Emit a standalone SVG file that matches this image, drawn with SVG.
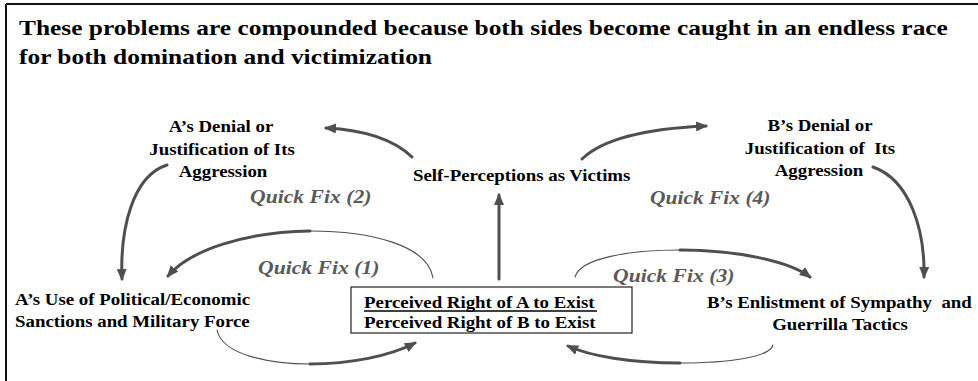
<svg xmlns="http://www.w3.org/2000/svg" width="978" height="381" viewBox="0 0 978 381">
<defs>
<marker id="ah" viewBox="0 0 12 10" refX="10" refY="5" markerWidth="12" markerHeight="10" markerUnits="userSpaceOnUse" orient="auto">
<path d="M0,0 L12,5 L0,10 z" fill="#4f4f4f"/>
</marker>
</defs>
<rect width="978" height="381" fill="#fff"/>
<g id="frame" stroke="#111" stroke-width="2">
<line x1="6" y1="4" x2="978" y2="4"/>
<line x1="6" y1="4" x2="6" y2="381"/>
</g>
<g id="title" font-weight="bold" font-size="21" fill="#000">
<text font-family="Liberation Serif" style="font-family:'Liberation Serif',serif" transform="translate(19,35) scale(1.21,1)" x="0" y="0">These problems are compounded because both sides become caught in an endless race</text>
<text font-family="Liberation Serif" style="font-family:'Liberation Serif',serif" transform="translate(19,64) scale(1.21,1)" x="0" y="0">for both domination and victimization</text>
</g>
<g id="connectors" fill="none" stroke="#4f4f4f" stroke-linecap="round">
<g stroke-width="3">
<path d="M499,279 L499,195" marker-end="url(#ah)"/>
<path d="M412,157 Q385,131 326,128" marker-end="url(#ah)"/>
<path d="M582,159 Q612,130 706,126" marker-end="url(#ah)"/>
<path d="M167,165 C132,176 120,230 122,279" marker-end="url(#ah)"/>
<path d="M873,167 C910,180 925,230 924,277" marker-end="url(#ah)"/>
<path d="M310,231 C245,232 190,250 168,276" marker-end="url(#ah)"/>
<path d="M310,364 C350,364 390,356 415,343" marker-end="url(#ah)"/>
<path d="M680,250 C740,250 790,262 810,277" marker-end="url(#ah)"/>
<path d="M680,363 C630,363 590,356 568,346" marker-end="url(#ah)"/>
</g>
<g stroke-width="1.1">
<path d="M433,278 C428,245 370,231 310,231"/>
<path d="M217,330 C222,355 270,364 310,364"/>
<path d="M575,277 C580,258 630,250 680,250"/>
<path d="M773,345 C770,357 730,363 680,363"/>
</g>
</g>
<g id="node-a-denial" font-weight="bold" font-size="17" fill="#000" text-anchor="middle">
<text font-family="Liberation Serif" style="font-family:'Liberation Serif',serif" transform="translate(221,132) scale(1.11,1)" x="0" y="0">A’s Denial or</text>
<text font-family="Liberation Serif" style="font-family:'Liberation Serif',serif" transform="translate(222,155) scale(1.11,1)" x="0" y="0">Justification of Its</text>
<text font-family="Liberation Serif" style="font-family:'Liberation Serif',serif" transform="translate(223,177) scale(1.11,1)" x="0" y="0">Aggression</text>
</g>
<g id="node-self-perceptions" font-weight="bold" font-size="17" fill="#000">
<text font-family="Liberation Serif" style="font-family:'Liberation Serif',serif" transform="translate(413,181) scale(1.11,1)" x="0" y="0">Self-Perceptions as Victims</text>
</g>
<g id="node-b-denial" font-weight="bold" font-size="17" fill="#000" text-anchor="middle">
<text font-family="Liberation Serif" style="font-family:'Liberation Serif',serif" transform="translate(820,131) scale(1.11,1)" x="0" y="0">B’s Denial or</text>
<text font-family="Liberation Serif" style="font-family:'Liberation Serif',serif" transform="translate(820,154) scale(1.11,1)" x="0" y="0" xml:space="preserve">Justification of  Its</text>
<text font-family="Liberation Serif" style="font-family:'Liberation Serif',serif" transform="translate(819,176) scale(1.11,1)" x="0" y="0">Aggression</text>
</g>
<g id="node-a-use" font-weight="bold" font-size="17" fill="#000">
<text font-family="Liberation Serif" style="font-family:'Liberation Serif',serif" transform="translate(15,305) scale(1.11,1)" x="0" y="0">A’s Use of Political/Economic</text>
<text font-family="Liberation Serif" style="font-family:'Liberation Serif',serif" transform="translate(15,327) scale(1.11,1)" x="0" y="0">Sanctions and Military Force</text>
</g>
<g id="node-rights" font-weight="bold" font-size="17" fill="#000">
<rect x="351" y="287" width="281" height="46" fill="#fff" stroke="#222" stroke-width="1.2"/>
<text font-family="Liberation Serif" style="font-family:'Liberation Serif',serif" transform="translate(364,308) scale(1.11,1)" x="0" y="0">Perceived Right of A to Exist</text>
<line x1="364" y1="311" x2="597" y2="311" stroke="#000" stroke-width="1.3"/>
<text font-family="Liberation Serif" style="font-family:'Liberation Serif',serif" transform="translate(364,328) scale(1.11,1)" x="0" y="0">Perceived Right of B to Exist</text>
</g>
<g id="node-b-enlistment" font-weight="bold" font-size="17" fill="#000">
<text font-family="Liberation Serif" style="font-family:'Liberation Serif',serif" transform="translate(707,308) scale(1.11,1)" x="0" y="0" xml:space="preserve">B’s Enlistment of Sympathy  and</text>
<text font-family="Liberation Serif" style="font-family:'Liberation Serif',serif" transform="translate(840,330) scale(1.11,1)" x="0" y="0" text-anchor="middle">Guerrilla Tactics</text>
</g>
<g id="quick-fixes" font-weight="bold" font-style="italic" font-size="19" fill="#5a5a5a">
<text font-family="Liberation Serif" style="font-family:'Liberation Serif',serif" transform="translate(250,203) scale(1.14,1)" x="0" y="0">Quick Fix (2)</text>
<text font-family="Liberation Serif" style="font-family:'Liberation Serif',serif" transform="translate(650,204) scale(1.13,1)" x="0" y="0">Quick Fix (4)</text>
<text font-family="Liberation Serif" style="font-family:'Liberation Serif',serif" transform="translate(258,274) scale(1.14,1)" x="0" y="0">Quick Fix (1)</text>
<text font-family="Liberation Serif" style="font-family:'Liberation Serif',serif" transform="translate(613,282) scale(1.14,1)" x="0" y="0">Quick Fix (3)</text>
</g>
</svg>
